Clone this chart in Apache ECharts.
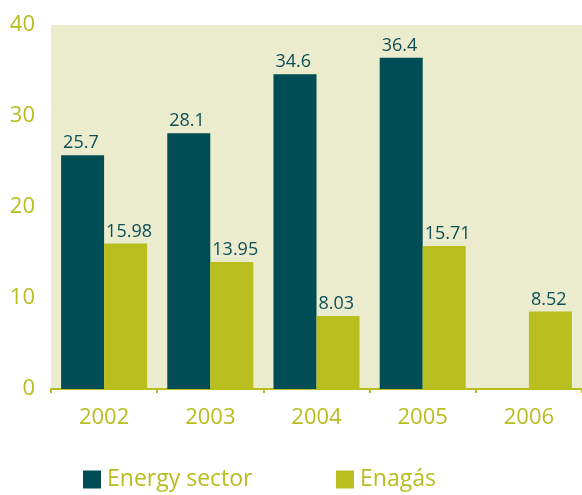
<!DOCTYPE html>
<html>
<head>
<meta charset="utf-8">
<script src="https://cdn.jsdelivr.net/npm/echarts@6/dist/echarts.min.js"></script>
<style>
  html, body { margin: 0; padding: 0; background: #fff; }
  #chart { width: 582px; height: 495px; }
</style>
</head>
<body>
<div id="chart"></div>
<script>
var years = ['2002', '2003', '2004', '2005', '2006']
var energySector = [25.7, 28.1, 34.6, 36.4, '-']
var enagas = [15.98, 13.95, 8.03, 15.71, 8.52]
var seriesNames = ['Energy sector', 'Enagás']

var olive = '#b8be1e'
var teal = '#014d55'
var font = 'Open Sans'

var chart = echarts.init(document.getElementById('chart'))

function valueLabel() {
  return {
    show: true,
    position: [2, -3],
    align: 'left',
    verticalAlign: 'bottom',
    color: '#0c4f57',
    fontFamily: font,
    fontSize: 18,
    formatter: function (p) {
      return String(p.value)
    }
  }
}

var legendText = { color: olive, fontFamily: font, fontSize: 23, padding: [0, 0, 0, 1] }

chart.setOption({
  animation: false,
  grid: {
    left: 51,
    right: 0,
    top: 25,
    bottom: 106,
    show: true,
    backgroundColor: '#ebebcd',
    borderWidth: 0
  },
  legend: [
    {
      data: [seriesNames[0]],
      left: 78,
      top: 468,
      padding: [0, 5, 0, 5],
      itemWidth: 18,
      itemHeight: 18,
      itemGap: 12,
      icon: 'rect',
      textStyle: legendText
    },
    {
      data: [seriesNames[1]],
      left: 331,
      top: 468,
      padding: [0, 5, 0, 5],
      itemWidth: 18,
      itemHeight: 18,
      icon: 'rect',
      textStyle: legendText
    }
  ],
  xAxis: {
    type: 'category',
    data: years,
    axisLine: { show: true, lineStyle: { color: olive, width: 2 } },
    axisTick: { show: true, length: 4, lineStyle: { color: olive, width: 2 } },
    axisLabel: { color: olive, fontFamily: font, fontSize: 22, margin: 18 }
  },
  yAxis: {
    type: 'value',
    min: 0,
    max: 40,
    interval: 10,
    axisLine: { show: false },
    axisTick: { show: false },
    splitLine: { show: false },
    axisLabel: {
      color: olive,
      fontFamily: font,
      fontSize: 22,
      margin: 16,
      padding: [0, 0, 14, 0]
    }
  },
  series: [
    {
      name: seriesNames[0],
      type: 'bar',
      data: energySector,
      barGap: '0%',
      barCategoryGap: '19%',
      itemStyle: { color: teal },
      label: valueLabel()
    },
    {
      name: seriesNames[1],
      type: 'bar',
      data: enagas,
      barGap: '0%',
      barCategoryGap: '19%',
      itemStyle: { color: olive },
      label: valueLabel()
    }
  ]
})
</script>
</body>
</html>
